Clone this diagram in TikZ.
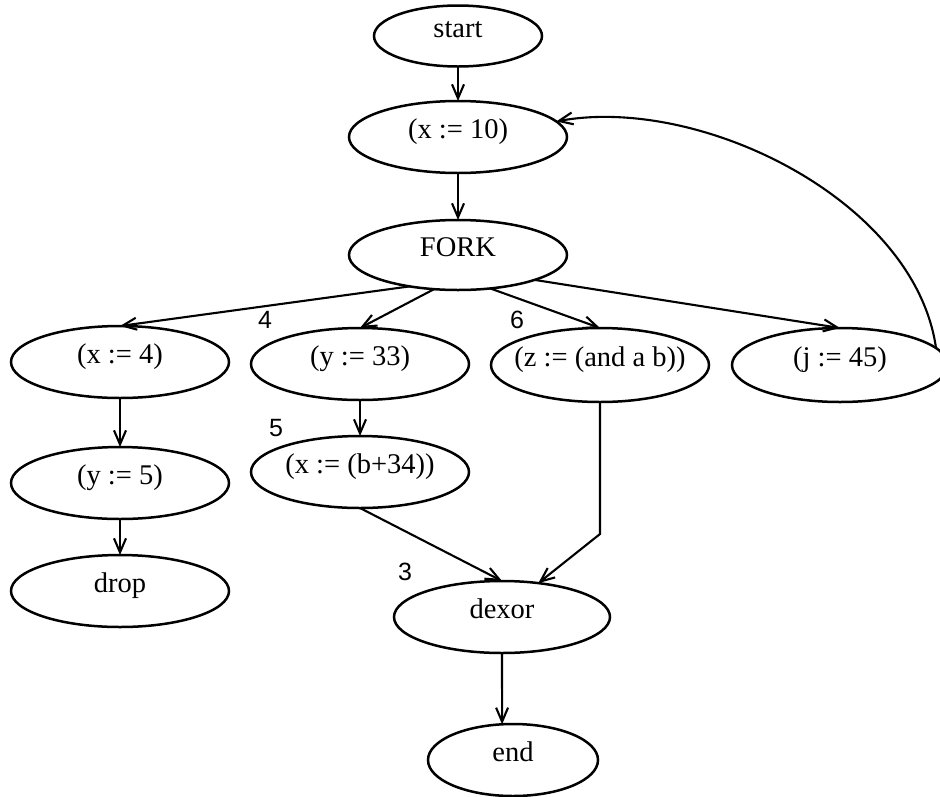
\documentclass[tikz,border=0pt]{standalone}
\usepackage{fontspec}
\setmainfont{Liberation Serif}
\newfontfamily\edgenumfont{Liberation Sans}
\usetikzlibrary{shapes.geometric, arrows.meta}
% statement text: zero-size box so the ellipse keeps its fixed size
\newcommand\stmttext[1]{\makebox[0pt]{\smash{\raisebox{-1pt}{\fontsize{28.5}{30}\selectfont #1}}}}
\begin{document}
\begin{tikzpicture}[x=1pt, y=-1pt,
  stmt/.style={draw, ellipse, line width=2.5pt, inner sep=0pt, outer sep=0pt,
               minimum width=218pt, minimum height=72pt},
  flow/.style={line width=2.1pt,
               -{Straight Barb[length=14pt, width=12pt, line width=2.1pt]}},
  num/.style={font=\edgenumfont\fontsize{25}{25}\selectfont, inner sep=0pt}]
  \fill[white] (0,0) rectangle (940,796);
  \useasboundingbox (0,0) rectangle (940,796);

  % statement nodes
  \node[stmt, minimum width=168pt, minimum height=61pt] (start) at (458,36) {\stmttext{start}};
  \node[stmt] (x10)  at (458,137) {\stmttext{(x := 10)}};
  \node[stmt, minimum height=70pt] (fork) at (458,255) {\stmttext{FORK}};
  \node[stmt] (x4)   at (120,362) {\stmttext{(x := 4)}};
  \node[stmt] (y33)  at (360,364) {\stmttext{(y := 33)}};
  \node[stmt, minimum height=74pt] (z) at (600,365) {\stmttext{(z := (and a b))}};
  \node[stmt, minimum width=216pt, minimum height=74pt] (j) at (840,365) {\stmttext{(j := 45)}};
  \node[stmt] (y5)   at (120,483) {\stmttext{(y := 5)}};
  \node[stmt] (xb34) at (360,472) {\stmttext{(x := (b+34))}};
  \node[stmt] (drop) at (120,591) {\stmttext{drop}};
  \node[stmt, minimum width=216pt] (dexor) at (502,617) {\stmttext{dexor}};
  \node[stmt, minimum width=170pt] (end) at (513,760) {\stmttext{end}};

  % edge numbers
  \node[num] (n4) at (265,320) {4};
  \node[num] (n6) at (517,320) {6};
  \node[num] (n5) at (276,428) {5};
  \node[num] (n3) at (405,572) {3};

  % control flow
  \draw[flow] (start) -- (x10);
  \draw[flow] (x10) -- (fork);
  \draw[flow] (fork.213) -- (x4.north);
  \draw[flow] (fork.235) -- (y33.north);
  \draw[flow] (fork.314) -- (z.north);
  \draw[flow] (fork.342) -- (j.north);
  \draw[flow] (x4) -- (y5);
  \draw[flow] (y5) -- (drop);
  \draw[flow] (y33) -- (xb34);
  \draw[flow] (xb34.south) -- (dexor.north);
  \coordinate (zbend) at (600,534);
  \draw[flow] (z.south) -- (zbend) -- (dexor.43);
  \draw[flow] (dexor.south) -- (end.107);
  \draw[flow] (j.10) .. controls (915,200) and (700,95) .. (x10.9);
\end{tikzpicture}
\end{document}
